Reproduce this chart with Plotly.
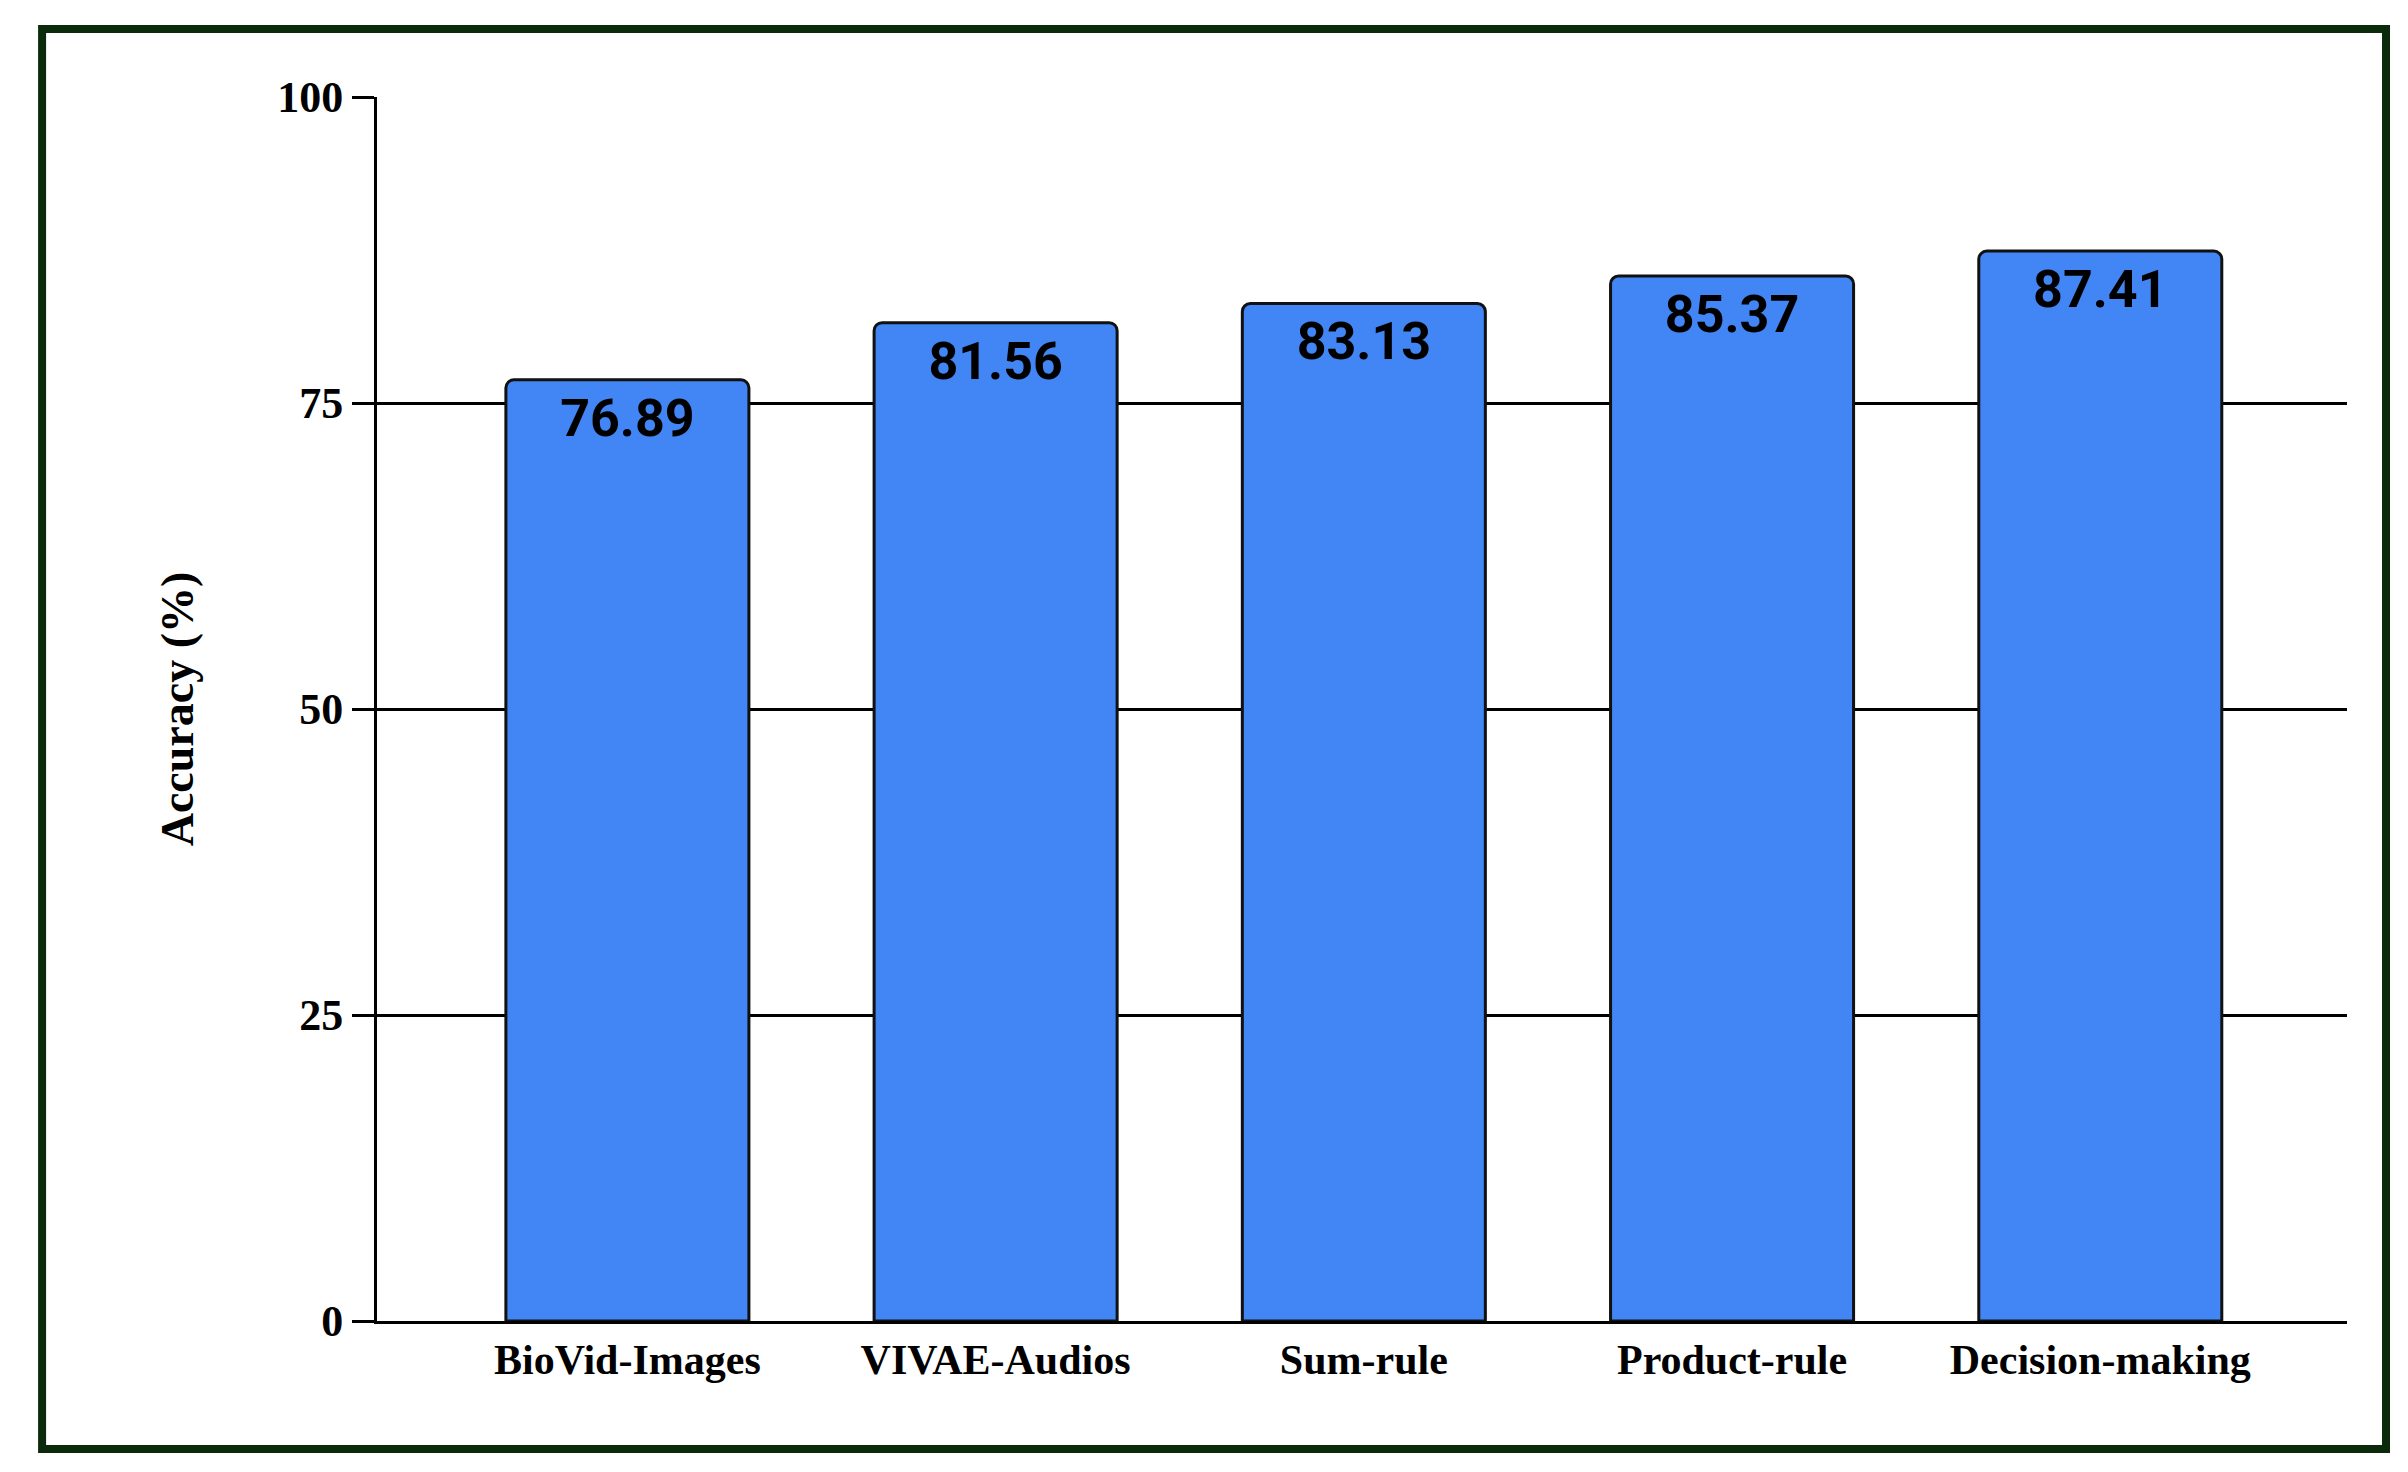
import plotly.graph_objects as go

categories = ["BioVid-Images", "VIVAE-Audios", "Sum-rule", "Product-rule", "Decision-making"]
accuracy = [76.89, 81.56, 83.13, 85.37, 87.41]
yticks = [0, 25, 50, 75, 100]

fig = go.Figure(go.Bar(
    x=categories, y=accuracy, width=0.66,
    marker=dict(color="#4285F4", line=dict(color="#111111", width=3), cornerradius=8),
    text=[f"{v:.2f}" for v in accuracy], textposition="inside", insidetextanchor="end",
    textfont=dict(family="Roboto", size=52, color="black", weight="bold"),
    cliponaxis=False,
))
fig.update_layout(
    width=2408, height=1472, paper_bgcolor="white", plot_bgcolor="white",
    margin=dict(l=369, r=69, t=89, b=159), showlegend=False,
    xaxis=dict(range=[-0.68, 4.67], showline=True, linecolor="black", linewidth=3,
               tickfont=dict(family="Liberation Serif", size=42, color="black", weight="bold"),
               ticks=""),
    yaxis=dict(range=[0, 100], tickvals=yticks, showgrid=True, gridcolor="black", gridwidth=3,
               showline=True, linecolor="black", linewidth=3, ticks="outside", ticklen=22,
               tickwidth=3, tickcolor="black", zeroline=False,
               tickfont=dict(family="Liberation Serif", size=44, color="black", weight="bold"),
               title=dict(text="Accuracy (%)", standoff=70,
                          font=dict(family="Liberation Serif", size=46, color="black", weight="bold"))),
    shapes=[dict(type="rect", xref="paper", yref="paper", x0=-0.170, x1=1.0198, y0=-0.1046, y1=1.0556,
                 line=dict(color="#0b2a0b", width=8))],
)
fig.write_html("out.html")
